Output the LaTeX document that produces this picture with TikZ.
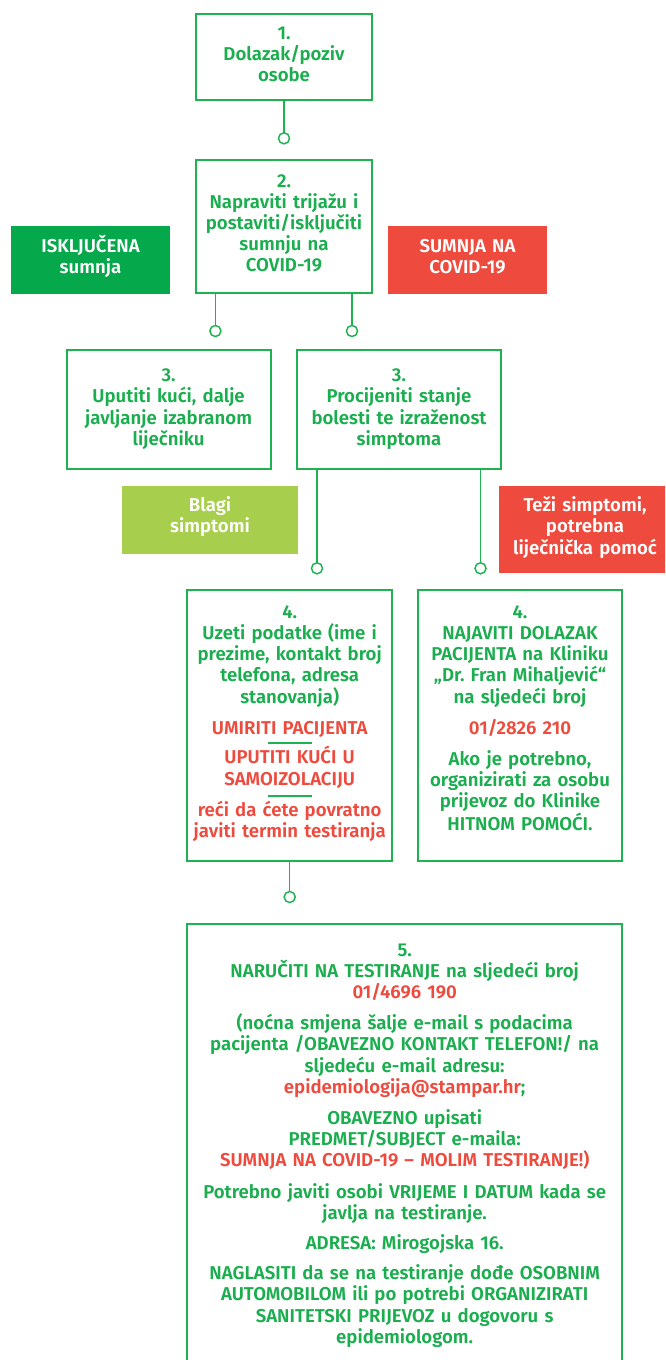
\documentclass[tikz,border=0pt]{standalone}
\usepackage{fontspec}
\setmainfont{Fira Sans}[UprightFont={* SemiBold},BoldFont={* Bold}]
\definecolor{gline}{RGB}{30,178,80}
\definecolor{gtext}{RGB}{26,174,78}
\definecolor{gtag}{RGB}{5,168,74}
\definecolor{rtag}{RGB}{238,75,62}
\definecolor{ltag}{RGB}{167,206,76}
\definecolor{tred}{RGB}{238,75,62}
\newcommand\pbox[6]{\node[#1, minimum width={(#5-#3)*0.75pt}, minimum height={(#6-#4)*0.75pt}] (#2) at ({(#3+#5)/2},{(#4+#6)/2}) {};}
\newcommand\R[1]{\textcolor{tred}{#1}}
\frenchspacing
\begin{document}
\begin{tikzpicture}[x=0.75pt,y=-0.75pt,
  frame/.style={draw=gline, line width=1.5pt, fill=white, inner sep=0pt, outer sep=0pt},
  tag/.style={fill=#1, draw=none, inner sep=0pt, outer sep=0pt},
  txt/.style={anchor=base, align=center, text=gtext, inner sep=0pt, outer sep=0pt,
     font=\fontsize{13.95pt}{15.9pt}\selectfont\frenchspacing, text width=#1},
  wtxt/.style={txt=#1, text=white},
  link/.style={draw=gline, line width=1.1pt},
  dot/.style={circle, draw=gline, line width=1.1pt, fill=white, minimum size=8.3pt, inner sep=0pt, outer sep=0pt},
  sep/.style={draw=gline, line width=1.5pt}]
\clip (0,0) rectangle (665,1360);
\fill[white] (0,0) rectangle (665,1360);

% boxes
\pbox{frame}{b1}{196}{14}{372}{100.3}
\pbox{frame}{b2}{196}{160}{372}{293.3}
\pbox{tag=gtag}{lg}{11}{226}{170}{293.7}
\pbox{tag=rtag}{lr}{388}{226}{547}{293.7}
\pbox{frame}{b3l}{66.6}{350}{270.6}{469}
\pbox{frame}{b3r}{297}{350}{501}{469}
\pbox{tag=ltag}{ll}{122}{486}{298}{553.7}
\pbox{tag=rtag}{lt}{499}{486}{666}{572.7}
\pbox{frame}{b4l}{187.3}{590.3}{392}{861}
\pbox{frame}{b4r}{417.7}{590.3}{622}{861}
\pbox{frame}{b5}{187.3}{924}{622}{1366}

% connectors
\node[dot] (c1) at (284,138.3) {};
\node[dot] (c2a) at (215.4,331) {};
\node[dot] (c2b) at (352,331) {};
\node[dot] (c3a) at (317,568.3) {};
\node[dot] (c3b) at (480.5,568.3) {};
\node[dot] (c4) at (289.7,897) {};
\draw[link] (b1.south) -- (c1.north);
\draw[link] (c2a |- b2.south) -- (c2a.north);
\draw[link] (c2b |- b2.south) -- (c2b.north);
\draw[link] (c3a |- b3r.south) -- (c3a.north);
\draw[link] (c3b |- b3r.south) -- (c3b.north);
\draw[link] (c4 |- b4l.south) -- (c4.north);

% texts
\node[txt=125pt] (t1) at (284,39.3) {1.\\Dolazak/poziv\\osobe};
\node[txt=125pt] (t2) at (284,187) {2.\\Napraviti trijažu i\\postaviti/isključiti\\sumnju na\\COVID-19};
\node[wtxt=115pt] (tg) at (90.5,252) {ISKLJUČENA\\sumnja};
\node[wtxt=115pt] (tr) at (467.5,252) {SUMNJA NA\\COVID-19};
\node[txt=148pt] (t3l) at (168.6,381.6) {3.\\Uputiti kući, dalje\\javljanje izabranom\\liječniku};
\node[txt=148pt] (t3r) at (399,381.6) {3.\\Procijeniti stanje\\bolesti te izraženost\\simptoma};
\node[wtxt=125pt] (tl) at (210,511.6) {Blagi\\simptomi};
\node[wtxt=125pt] (tt) at (585,511.6) {Teži simptomi,\\potrebna\\liječnička pomoć};

\node[txt=150pt] (t4l) at (289.7,618.2) {4.\\Uzeti podatke (ime i\\prezime, kontakt broj\\telefona, adresa\\stanovanja)\\[7.5pt]
  \R{UMIRITI PACIJENTA}\\[6.4pt]
  \R{UPUTITI KUĆI U}\\\R{SAMOIZOLACIJU}\\[7.5pt]
  \R{reći da ćete povratno}\\\R{javiti termin testiranja}};
\draw[sep] (268.3,743) -- (312.3,743);
\draw[sep] (268.3,796) -- (312.3,796);

\node[txt=150pt] (t4r) at (520,618.2) {4.\\NAJAVITI DOLAZAK\\PACIJENTA na Kliniku\\„Dr.\ Fran Mihaljević“\\na sljedeći broj\\[7.5pt]
  \R{01/2826 210}\\[7.2pt]
  Ako je potrebno,\\organizirati za osobu\\prijevoz do Klinike\\HITNOM POMOĆI.};

\node[txt=320pt] (t5) at (404.7,956) {5.\\NARUČITI NA TESTIRANJE na sljedeći broj\\\R{01/4696 190}\\[7.5pt]
  (noćna smjena šalje e-mail s podacima\\pacijenta /OBAVEZNO KONTAKT TELEFON!/ na\\sljedeću e-mail adresu:\\\R{epidemiologija@stampar.hr};\\[7.5pt]
  OBAVEZNO upisati\\PREDMET/SUBJECT e-maila:\\\R{SUMNJA NA COVID-19 – MOLIM TESTIRANJE!)}\\[7.5pt]
  Potrebno javiti osobi VRIJEME I DATUM kada se\\javlja na testiranje.\\[7pt]
  ADRESA: Mirogojska 16.\\[6.6pt]
  NAGLASITI da se na testiranje dođe OSOBNIM\\AUTOMOBILOM ili po potrebi ORGANIZIRATI\\SANITETSKI PRIJEVOZ u dogovoru s\\epidemiologom.};
\end{tikzpicture}
\end{document}
